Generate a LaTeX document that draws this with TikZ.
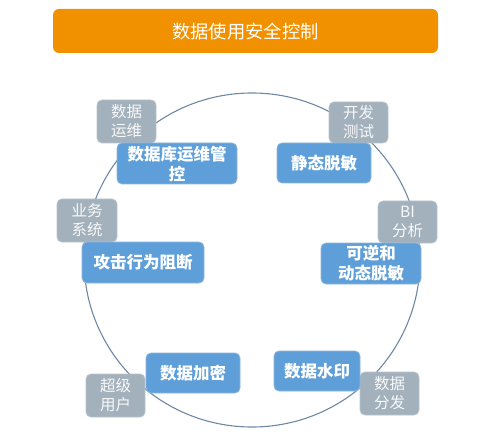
\documentclass[tikz,border=0pt]{standalone}
\usepackage{fontspec}
\setmainfont{Noto Sans CJK SC}
\usepackage{tikz}
\usepackage{xcolor}

\definecolor{titleorange}{HTML}{F29100}
\definecolor{tagfill}{HTML}{A3B1BC}
\definecolor{tagline}{HTML}{B9C4CC}
\definecolor{ctrlfill}{HTML}{5E9FD9}
\definecolor{ctrlline}{HTML}{8FB6DC}
\definecolor{ringcol}{HTML}{6E88A4}

\tikzset{
  tagbox/.style={draw=tagline, line width=0.8, fill=tagfill, rounded corners=5,
    text=white!92!tagfill, align=center, inner sep=0pt, font=\fontsize{15.5}{19}\selectfont},
  ctrlbox/.style={draw=ctrlline, line width=0.8, fill=ctrlfill, rounded corners=5,
    text=white, align=center, inner sep=0pt, font=\fontsize{16.5}{20}\selectfont\bfseries},
}

\begin{document}
\begin{tikzpicture}[x=1pt,y=1pt,yscale=-1,xscale=1]
\useasboundingbox (0,0) rectangle (486,435);

%Title bar
\node (title) [fill=titleorange, rounded corners=6, minimum width=385, minimum height=44,
  inner sep=0pt, text=white, font=\fontsize{18.3}{22}\selectfont] at (245.5,31) {数据使用安全控制};

%Ring
\draw [ringcol, line width=1.1] (252,260) ellipse [x radius=168, y radius=167];

% Tag Node
\node (ops) [tagbox, minimum width=59, minimum height=43] at (126.5,121.5) {数据\\运维};
% Tag Node
\node (dev) [tagbox, minimum width=59, minimum height=41] at (358.5,122.5) {开发\\测试};
% Tag Node
\node (biz) [tagbox, minimum width=60, minimum height=43] at (87,220.5) {业务\\系统};
% Tag Node
\node (bi) [tagbox, minimum width=59, minimum height=42] at (407.5,222) {BI\\分析};
% Tag Node
\node (root) [tagbox, minimum width=59, minimum height=43] at (115.5,395.5) {超级\\用户};
% Tag Node
\node (dist) [tagbox, minimum width=59, minimum height=43] at (389.5,393.5) {数据\\分发};

% Control Node
\node (dbops) [ctrlbox, minimum width=120, minimum height=41] at (177,163.5) {数据库运维管\\控};
% Control Node
\node (smask) [ctrlbox, minimum width=94, minimum height=40] at (324,163) {静态脱敏};
% Control Node
\node (block) [ctrlbox, minimum width=122, minimum height=41] at (143,262.5) {攻击行为阻断};
% Control Node
\node (dmask) [ctrlbox, minimum width=100, minimum height=41] at (371,263.5) {可逆和\\动态脱敏};
% Control Node
\node (crypt) [ctrlbox, minimum width=94, minimum height=40] at (193,373) {数据加密};
% Control Node
\node (mark) [ctrlbox, minimum width=86, minimum height=40] at (317,371) {数据水印};
\end{tikzpicture}
\end{document}
